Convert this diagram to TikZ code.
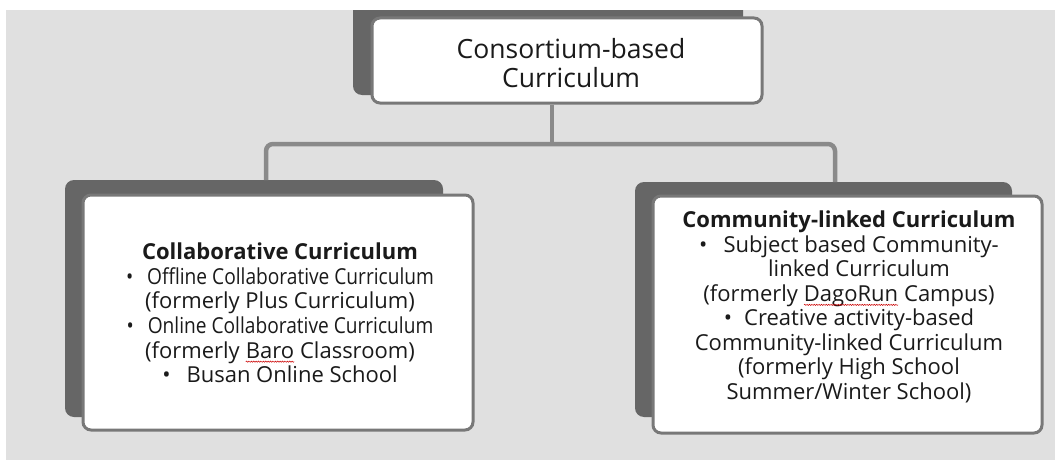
\documentclass[tikz,border=0pt]{standalone}
\usepackage{fontspec}
\setmainfont{Open Sans}
\usepackage{graphicx}
\usetikzlibrary{decorations.pathmorphing}
\definecolor{bggray}{HTML}{E0E0E0}
\definecolor{shadowgray}{HTML}{666666}
\definecolor{bordergray}{HTML}{787878}
\definecolor{linkgray}{HTML}{8A8A8A}
\definecolor{txt}{HTML}{1A1A1A}
\newcommand\redwave[2]{\tikz[baseline=(#1.base),x=1pt,y=1pt]{\node[inner sep=0pt,outer sep=0pt](#1){#2};\draw[red!80!black,line width=0.5pt,decorate,decoration={snake,amplitude=0.6pt,segment length=2.4pt}]([yshift=-3.5pt]#1.base west)--([yshift=-3.5pt]#1.base east);}}
\newcommand\narrowtxt[1]{\scalebox{0.87}[1]{#1}}
\begin{document}
\begin{tikzpicture}[x=1pt,y=-1pt,
  shadowbox/.style={fill=shadowgray, rounded corners=9pt, inner sep=0pt, draw=none},
  whitebox/.style={fill=white, draw=bordergray, line width=3pt, rounded corners=8pt, inner sep=0pt},
  boxtext/.style={text=txt, align=center, inner sep=0pt},
  link/.style={draw=linkgray, line width=4.5pt, rounded corners=7pt}]
\useasboundingbox (0,0) rectangle (1055,460);
\fill[white] (0,0) rectangle (1055,460);
\fill[bggray] (6,10) rectangle (1055,460);
% top
\node[shadowbox, minimum width=390pt, minimum height=95pt] (topsh) at (548,47.5) {};
\fill[white] (0,0) rectangle (1055,10);
\node[whitebox, minimum width=390pt, minimum height=85pt] (topbox) at (567,60.5) {};
\node[boxtext, font=\fontsize{26.5}{28.5}\selectfont] (toptext) at (571,63) {Consortium-based\\Curriculum};
% left
\node[shadowbox, minimum width=378pt, minimum height=237pt] (leftsh) at (254,298.5) {};
\node[whitebox, minimum width=390pt, minimum height=235pt] (leftbox) at (278,312.5) {};
\node[boxtext, font=\fontsize{22}{24.6}\selectfont] (lefttext) at (280,313) {%
\textbf{Collaborative Curriculum}\\
\narrowtxt{\textbullet\hspace{16pt}Offline Collaborative Curriculum}\\
(formerly Plus Curriculum)\\
\narrowtxt{\textbullet\hspace{16pt}Online Collaborative Curriculum}\\
(formerly \redwave{wbaro}{Baro} Classroom)\\
\textbullet\hspace{16pt}Busan Online School};
% right
\node[shadowbox, minimum width=377pt, minimum height=235pt] (rightsh) at (823.5,299.5) {};
\node[whitebox, minimum width=389pt, minimum height=237pt] (rightbox) at (847.5,314.5) {};
\node[boxtext, font=\fontsize{22}{24.5}\selectfont] (righttext) at (849,307) {%
\textbf{Community-linked Curriculum}\\
\textbullet\hspace{16pt}Subject based Community-\\
\hspace{20pt}linked Curriculum\\
(formerly \redwave{wdago}{DagoRun} Campus)\\
\textbullet\hspace{12pt}Creative activity-based\\
Community-linked Curriculum\\
(formerly High School\\
Summer/Winter School)};
% connectors
\coordinate (bus) at (552,144);
\coordinate (lj) at (266,180);
\coordinate (rj) at (835,182);
\draw[link] (topbox.south -| bus) -- (bus);
\draw[link] (lj) |- (bus) -| (rj);
\end{tikzpicture}
\end{document}
